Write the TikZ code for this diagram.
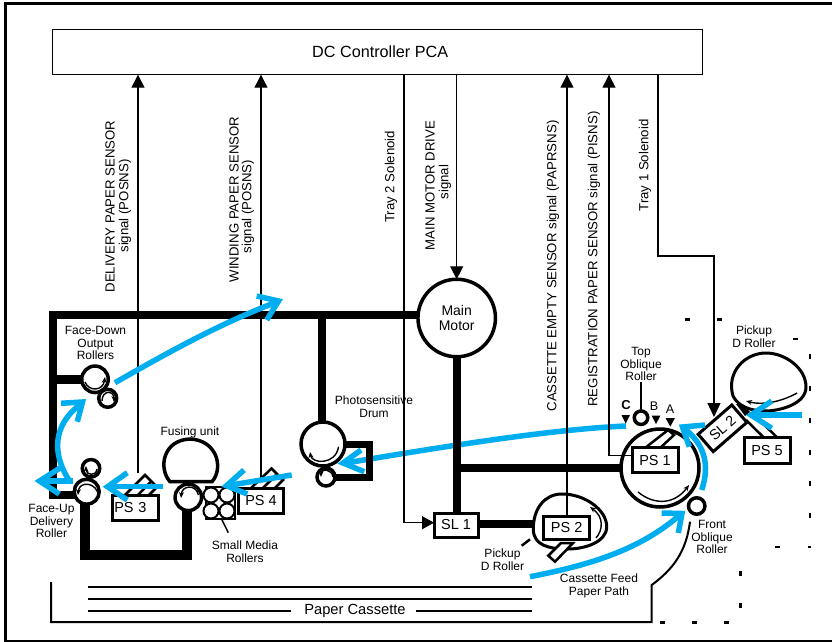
\documentclass[tikz,border=0pt]{standalone}
\usepackage{fontspec}
\setmainfont{Liberation Sans}
\usetikzlibrary{arrows.meta,calc}
\definecolor{pathblue}{HTML}{00AEEF}
\pgfdeclarelayer{under}
\pgfdeclarelayer{shafts}
\pgfsetlayers{under,shafts,main}
\tikzset{
  x=1pt,y=-1pt,
  frameline/.style={line width=3pt,line cap=butt},
  signalline/.style={line width=1.3pt},
  sigup/.style={signalline,-{Triangle[length=13pt,width=13pt]}},
  shaft/.style={line width=8.5pt},
  thinbox/.style={draw,line width=1.2pt,fill=white,minimum width=650pt,minimum height=45pt,inner sep=0pt,outer sep=0pt,font=\fontsize{16.2}{18}\selectfont},
  devbox/.style={draw,line width=3pt,fill=white,inner sep=0pt,outer sep=0pt,minimum width=43pt,minimum height=22.5pt,font=\fontsize{14.5}{16}\selectfont},
  roller/.style={draw,circle,line width=3.5pt,fill=white,inner sep=0pt,outer sep=0pt},
  rollerthin/.style={draw,circle,line width=2pt,fill=white,inner sep=0pt,outer sep=0pt,minimum size=15pt},
  lab/.style={align=center,inner sep=0pt,font=\fontsize{12}{12.8}\selectfont},
  sig/.style={align=center,inner sep=0pt,rotate=90,font=\fontsize{13.2}{15}\selectfont},
  pathline/.style={draw=pathblue,line width=5.5pt},
  chev/.style={draw=pathblue,line width=5.5pt,miter limit=10},
  spin/.style={line width=1.4pt,-{Stealth[length=6pt,width=5pt]}},
  tick/.style={fill=black,draw=none,minimum width=5pt,minimum height=2.5pt,inner sep=0pt},
  vtick/.style={fill=black,draw=none,minimum width=2.5pt,minimum height=5pt,inner sep=0pt},
  downmark/.style={fill=black,draw=none},
  fork/.style={line width=2.5pt},
}
\begin{document}
\begin{tikzpicture}
\useasboundingbox (0,0) rectangle (832,642);
\draw[frameline] (832,3.5) -- (5.5,3.5) -- (5.5,641) -- (832,641);

% main nodes
\node[thinbox] (pca) at (377.2,52.2) {\kern6pt\raisebox{-2.5pt}{DC Controller PCA}};
\node[roller,minimum size=77.5pt,align=center,font=\fontsize{14}{15}\selectfont] (motor) at (456.7,318) {Main\\Motor};

% rollers
\node[roller,minimum size=26.5pt] (fdbig) at (95,379.3) {};
\node[roller,minimum size=18pt] (fdsmall) at (107.7,398.3) {};
\node[roller,minimum size=17.5pt] (fusmall) at (91,468.3) {};
\node[roller,minimum size=25pt] (fubig) at (86.7,491.7) {};
\node[roller,minimum size=26.5pt] (fuser) at (188.3,497.3) {};
\node[roller,minimum size=44pt] (drum) at (323,444) {};
\node[roller,minimum size=18pt] (drumsmall) at (326,477) {};
\node[roller,minimum size=78pt] (big) at (660,468) {};
\node[devbox,minimum width=44pt,minimum height=24pt] (sl1) at (456,525) {SL 1};

% named points of the drive train
\coordinate (frameTL) at (53,315);
\coordinate (frameBL) at (53,495);
\coordinate (brFD) at (53,379.3);
\coordinate (brDrum) at (321.7,315);
\coordinate (brMain) at (456.7,468);
\coordinate (uLeft) at (85,555);
\coordinate (uRight) at (187,555);
\coordinate (bk1) at (369.5,444);
\coordinate (bk2) at (369.5,477.7);
\coordinate (pk2w) at (540,524.3);

\begin{pgfonlayer}{under}
\draw[pathline] (626,426) .. controls (560,429) and (470,442) .. (346,463);
\draw[chev] (361,450) -- (343,463) -- (364.3,471.7);
\end{pgfonlayer}

\begin{pgfonlayer}{shafts}
\draw[shaft] (motor.center |- frameTL) -- (frameTL) -- (frameBL) -- (fubig |- frameBL);
\draw[shaft] (brFD) -- (fdbig.center);
\draw[shaft,line width=9.5pt] (85,491.7) -- (uLeft) -- (uRight) -- (187,497.3);
\draw[shaft,line width=8pt] (brDrum) -- (321.7,444);
\draw[shaft,line width=7pt] (drum.center) -- (bk1) -- (bk2) -- (drumsmall |- bk2);
\draw[shaft,line width=8pt] (motor.center) -- (brMain) -- (brMain |- sl1);
\draw[shaft] (brMain) -- (big.center);
\draw[shaft,line width=8pt] (sl1.center |- pk2w) -- (pk2w);
\end{pgfonlayer}

% Pickup rollers
\draw[line width=3pt,fill=white] (533.3,530) .. controls (533,508) and (545,494) .. (562,494)
  .. controls (585,494) and (607,510) .. (606.7,527) .. controls (606.5,542) and (585,549) .. (568,549)
  .. controls (548,549) and (534,545) .. (533.3,530) -- cycle;
\draw[line width=3pt,fill=white] (733,396) .. controls (726,372) and (745,353) .. (766,353)
  .. controls (785,353) and (806,368) .. (806,387) .. controls (806,404) and (780,411) .. (765,411)
  .. controls (750,411) and (738,406) .. (733,396) -- cycle;
\draw[spin] (596,538) .. controls (603,530) and (604,517) .. (590,507);
\draw[spin] (797,393) .. controls (785,400) and (765,406) .. (746,401);
\fill (736,404) -- (744,405) -- (750,412) -- (745,416) -- cycle;

% sensors
\draw[fork,fill=white] (125,495) -- (145,475) -- (157,487) -- (149,495) ;
\draw[fork] (138,495) -- (150.5,482);
\draw[fork,fill=white] (251,488) -- (271.5,468.5) -- (283,480) -- (275,488);
\draw[fork] (263,488) -- (276,475);
\draw[fork,fill=white] (645,448) -- (668,430) -- (674,435) -- (660,448);
\draw[fork,fill=white] (548.3,555.7) -- (561,543) -- (573,543) -- (555,561.7) -- cycle;
\draw[fork] (763.3,437) -- (746,420);
\draw[fork] (776.7,437) -- (753,414);
\draw[line width=2.5pt] (521.7,545.7) -- (530,539.3);

% Fusing unit
\draw[line width=3.5pt,fill=white] (170,481.7) .. controls (158,468) and (163,440) .. (190,439)
  .. controls (217,440) and (224,468) .. (212,481.7) -- cycle;

% Device boxes
\node[devbox,minimum width=46pt,minimum height=25pt] (ps1) at (655,460.2) {PS 1};
\node[devbox,minimum width=46pt,minimum height=22.5pt] (ps2) at (566.7,528) {PS 2};
\node[devbox,minimum width=46pt,minimum height=25pt,text width=42pt,align=left] (ps3) at (135.3,507.5) {PS 3};
\node[devbox,minimum width=45pt,minimum height=25.7pt] (ps4) at (261,501) {PS 4};
\node[devbox,minimum width=46pt,minimum height=25.6pt] (ps5) at (767,450.5) {PS 5};
\node[devbox,rotate=41,minimum width=44.6pt,minimum height=23pt] (sl2) at (722.5,428.3) {SL 2};

% Small media rollers
\node[draw,line width=1.8pt,fill=white,minimum width=29pt,minimum height=32.6pt,inner sep=0pt,outer sep=0pt] (smbox) at (220.5,503) {};
\node[rollerthin] (sm1) at (211,495) {};
\node[rollerthin] (sm2) at (227,495) {};
\node[rollerthin] (sm3) at (211,511) {};
\node[rollerthin] (sm4) at (227,511) {};
\coordinate (smleader) at (228.3,532.7);
\draw[line width=1.5pt] (smbox.south -| 221.7,0) -- (smleader);

% Front / top oblique rollers
\node[roller,minimum size=13.5pt] (top) at (641,417.7) {};
\node[roller,minimum size=16.5pt] (front) at (696.7,506) {};

% spin arrows
\draw[spin] (85,382) .. controls (89,392) and (103,391) .. (105,377);
\draw[spin] (102,401) .. controls (102,390) and (114,390) .. (114,402);
\draw[spin] (99,497) .. controls (97,481) and (79,481) .. (78,495);
\draw[spin] (97,469) .. controls (96,477) and (86,475) .. (86,466);
\draw[spin] (198.5,495) .. controls (196,484) and (182,485) .. (181,498);
\draw[spin] (338.5,446.7) .. controls (336,465) and (312,464) .. (310,452);
\draw[spin] (333,477) .. controls (332,469) and (321,468) .. (321,477);
\draw[spin] (638,492) .. controls (655,506) and (675,504) .. (689,485);

% signal lines
\coordinate (tapDel) at (138,473);
\coordinate (tapWin) at (261,477);
\coordinate (tapCas) at (567,516);
\coordinate (tapReg) at (609,455.7);
\coordinate (tapTwoA) at (404,522.7);
\coordinate (tapOneA) at (658,256);
\coordinate (tapOneB) at (714,256);
\coordinate (tapOneC) at (714,417);
\coordinate (topEnd) at (641,381.7);
\draw[sigup] (tapDel) -- (tapDel |- pca.south);
\draw[sigup] (tapWin) -- (tapWin |- pca.south);
\draw[sigup] (ps2.north -| tapCas) -- (tapCas |- pca.south);
\draw[sigup] (ps1.west |- tapReg) -- (tapReg) -- (tapReg |- pca.south);
\draw[signalline,-{Triangle[length=12pt,width=13pt]}] (tapTwoA |- pca.south) -- (tapTwoA) -- (sl1.west |- tapTwoA);
\draw[signalline,-{Triangle[length=13pt,width=13pt]}] (motor.north |- pca.south) -- (motor.north);
\draw[signalline,-{Triangle[length=14pt,width=13pt]}] (tapOneA |- pca.south) -- (tapOneA) -- (tapOneB) -- (tapOneC);
\draw[signalline] (top) -- (topEnd);

% Paper cassette
\coordinate (cassTL) at (51,582);
\coordinate (cassBL) at (51,622);
\coordinate (cassBR) at (651.7,622);
\coordinate (cassCorner) at (651.7,585);
\coordinate (cassEnd) at (690,521.7);
\draw[line width=2pt] (cassTL) -- (cassBL) -- (cassBR) -- (cassCorner) .. controls (672,570) and (686,553) .. (cassEnd);
\draw[line width=2pt] (88,586.7) -- (532,586.7);
\draw[line width=2pt] (88,599) -- (532,599);
\node[inner sep=0pt,font=\fontsize{14.7}{16}\selectfont] (pc) at (355,610.5) {Paper Cassette};
\draw[line width=2pt] (88,610.5) -- (291,610.5);
\draw[line width=2pt] (416,610.5) -- (532,610.5);

% Blue paths on top
\draw[pathline] (115,382.7) .. controls (160,357) and (220,323) .. (277,302);
\draw[chev] (256.7,296) -- (278.5,301) -- (266.7,320);
\draw[pathline] (70,481.7) .. controls (52,455) and (52,425) .. (81,404);
\draw[chev] (61,403.3) -- (82.5,402) -- (77.3,421.7);
\draw[pathline] (72.7,481) -- (41,481);
\draw[chev] (60,468) -- (39.5,481) -- (59.3,494);
\draw[pathline] (163.3,486.7) -- (109,486.7);
\draw[chev] (127.3,472.7) -- (107.5,486.7) -- (127.3,500);
\draw[pathline] (291.7,475) -- (228,485.5);
\draw[chev] (244,470) -- (226.5,485.7) -- (247.3,494);
\draw[pathline] (701.7,490) .. controls (710,465) and (705,445) .. (684,428);
\draw[chev] (705,425) -- (682.5,427) -- (689.3,446.7);
\draw[pathline] (530,576.7) .. controls (590,565) and (640,550) .. (681,514);
\draw[chev] (661.7,513) -- (682,513.5) -- (678.3,533);
\draw[pathline] (801.7,415) -- (753,415);
\draw[chev] (771.7,401) -- (751,415) -- (771.7,428.3);

% A B C markers
\fill[downmark] (621.5,415) -- (630,415) -- (625.7,423.5) -- cycle;
\fill[downmark] (651.5,415.5) -- (660.5,415.5) -- (656,424) -- cycle;
\fill[downmark] (665.5,418) -- (675,418) -- (670.3,426.5) -- cycle;
\node[lab,font=\fontsize{13}{15}\bfseries\selectfont] (mc) at (626,405.5) {C};
\node[lab,font=\fontsize{12.5}{15}\selectfont] (mb) at (654,406) {B};
\node[lab,font=\fontsize{12.5}{15}\selectfont] (ma) at (670,409) {A};

% labels
\node[lab] (lfd) at (95.5,343) {Face-Down\\Output\\Rollers};
\node[lab] (lfu) at (51.5,521) {Face-Up\\Delivery\\Roller};
\node[lab] (lfus) at (190,432.7) {Fusing unit};
\node[lab] (lsm) at (245,551.5) {Small Media\\Rollers};
\node[lab] (lpd) at (374,407) {Photosensitive\\Drum};
\node[lab] (lp2) at (502.5,559.5) {Pickup\\D Roller};
\node[lab] (lcf) at (599,585.5) {Cassette Feed\\Paper Path};
\node[lab] (lfo) at (712,537) {Front\\Oblique\\Roller};
\node[lab] (ltop) at (641,364) {Top\\Oblique\\Roller};
\node[lab] (lp5) at (754,336.5) {Pickup\\D Roller};

% vertical texts
\node[sig] (t1) at (110,206.5) {DELIVERY PAPER SENSOR};
\node[sig] (t1b) at (125,206) {signal (POSNS)};
\node[sig] (t2) at (234,199.5) {WINDING PAPER SENSOR};
\node[sig] (t2b) at (248,206.5) {signal (POSNS)};
\node[sig] (t3) at (391,176.7) {Tray 2 Solenoid};
\node[sig] (t4) at (430,185.5) {MAIN MOTOR DRIVE};
\node[sig] (t4b) at (445,182) {signal};
\node[sig] (t5) at (553,266) {CASSETTE EMPTY SENSOR signal (PAPRSNS)};
\node[sig] (t6) at (594,259) {REGISTRATION PAPER SENSOR signal (PISNS)};
\node[sig] (t7) at (645,165.5) {Tray 1 Solenoid};

% registration ticks
\foreach \px/\py in {687.7/319.3,719.7/319.3,795.7/339,777.7/547,662.7/622.3,694.3/622.3,726.3/622.3}
  \node[tick] at (\px,\py) {};
\foreach \px/\py in {810/356.7,810/388.3,810/420,810/452,810/483.7,810/515.7,740.7/573.3,740.7/605}
  \node[vtick] at (\px,\py) {};
\node[tick,minimum width=3pt] at (809.3,547) {};
\end{tikzpicture}
\end{document}
